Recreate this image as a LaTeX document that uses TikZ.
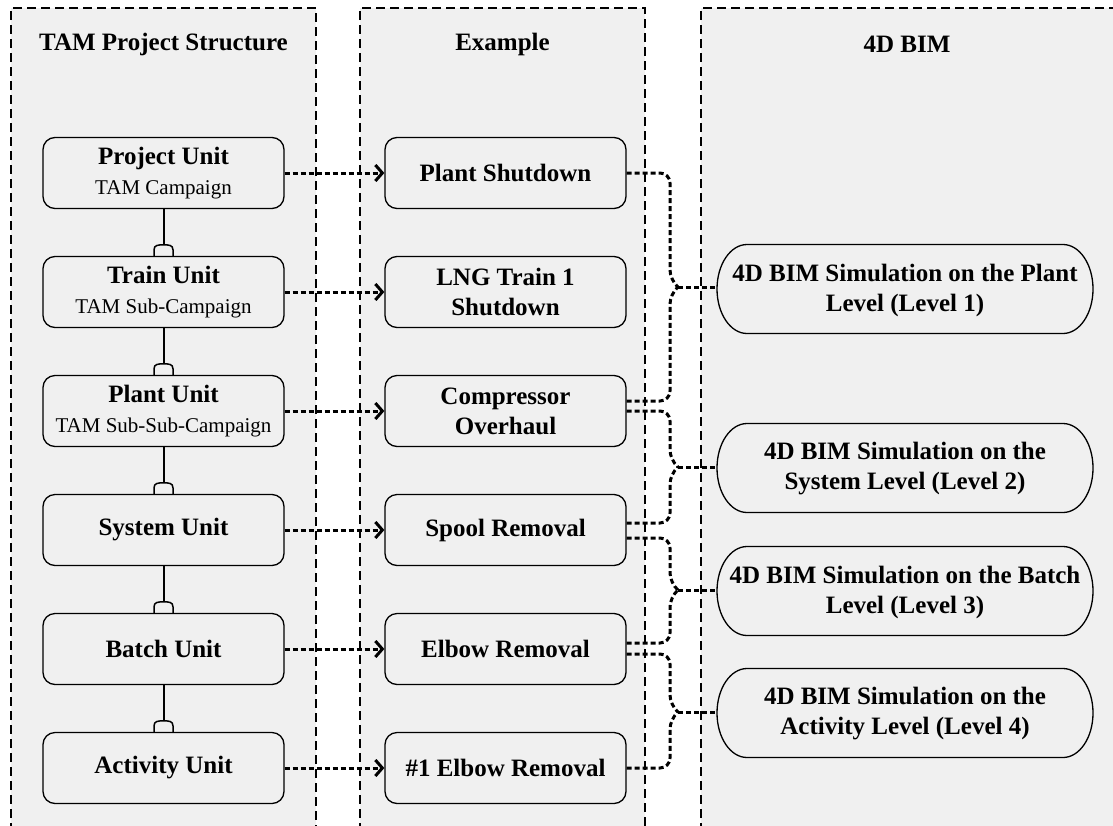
\documentclass[tikz,border=0pt]{standalone}
\usepackage{fontspec}
\setmainfont{Liberation Serif}
\usetikzlibrary{arrows.meta,calc}
\definecolor{lanegray}{RGB}{240,240,240}
% capsule outline with elliptic ends: centre x, centre y
\newcommand{\capshape}[2]{%
  \draw[capline] (#1-158,#2-44.5) -- (#1+158,#2-44.5)
    arc[start angle=90,end angle=-90,x radius=30pt,y radius=44.5pt]
    -- (#1-158,#2+44.5)
    arc[start angle=270,end angle=90,x radius=30pt,y radius=44.5pt] -- cycle;}
\newcommand{\subline}[1]{{\fontsize{21}{31}\selectfont\mdseries #1}}
\begin{document}
\begin{tikzpicture}[x=1pt,y=-1pt,
  lanefill/.style={fill=lanegray},
  laneedge/.style={draw=black, line width=1.1pt, dash pattern=on 9pt off 5pt},
  unitbox/.style={draw=black, fill=lanegray, line width=1.3pt, rounded corners=12pt,
    minimum width=241pt, minimum height=71pt, align=center, inner sep=0pt,
    font=\fontsize{25}{30}\selectfont\bfseries},
  lanetitle/.style={font=\fontsize{25}{30}\selectfont\bfseries},
  capsule/.style={minimum width=376pt, minimum height=89pt, align=center, inner sep=0pt,
    font=\fontsize{25}{30}\selectfont\bfseries},
  capline/.style={draw=black, fill=lanegray, line width=1.3pt},
  link/.style={line width=2pt},
  conn/.style={line width=3pt, dash pattern=on 5pt off 3pt, rounded corners=10pt},
  arr/.style={line width=3pt, dash pattern=on 5pt off 3pt,
    -{Straight Barb[length=7pt,width=16pt]}},
]
\useasboundingbox (0,0) rectangle (1113,825);
\fill[white] (0,0) rectangle (1113,825);

% swim lanes
\fill[lanefill] (11,8) rectangle (316,832);
\fill[lanefill] (360,8) rectangle (645,832);
\fill[lanefill] (701,8) rectangle (1125,832);
\draw[laneedge] (11,832) -- (11,8) -- (316,8) -- (316,832);
\draw[laneedge] (360,832) -- (360,8) -- (645,8) -- (645,832);
\draw[laneedge] (701,832) -- (701,8) -- (1125,8);

% lane titles
\node[lanetitle] (T1) at (163.5,44) {TAM Project Structure};
\node[lanetitle] (T2) at (502.5,44) {Example};
\node[lanetitle] (T3) at (907,44) {4D BIM};

% project structure units
\node[unitbox] (L1) at (163.5,173) {Project Unit\\\subline{TAM Campaign}};
\node[unitbox] (L2) at (163.5,292) {Train Unit\\\subline{TAM Sub-Campaign}};
\node[unitbox] (L3) at (163.5,411) {Plant Unit\\\subline{TAM Sub-Sub-Campaign}};
\node[unitbox] (L4) at (163.5,530) {System Unit};
\node[unitbox] (L5) at (163.5,649) {Batch Unit};
\node[unitbox] (L6) at (163.5,768) {Activity Unit};

% examples
\node[unitbox] (M1) at (505.5,173) {Plant Shutdown};
\node[unitbox] (M2) at (505.5,292) {LNG Train 1\\Shutdown};
\node[unitbox] (M3) at (505.5,411) {Compressor\\Overhaul};
\node[unitbox] (M4) at (505.5,530) {Spool Removal};
\node[unitbox] (M5) at (505.5,649) {Elbow Removal};
\node[unitbox] (M6) at (505.5,768) {\#1 Elbow Removal};

% 4D BIM levels
\foreach \cy in {289,468,591,713} {\capshape{905}{\cy}}
\node[capsule] (E1) at (905,290) {4D BIM Simulation on the Plant\\Level (Level 1)};
\node[capsule] (E2) at (905,469) {4D BIM Simulation on the\\System Level (Level 2)};
\node[capsule] (E3) at (905,592) {4D BIM Simulation on the Batch\\Level (Level 3)};
\node[capsule] (E4) at (905,714) {4D BIM Simulation on the\\Activity Level (Level 4)};

% hierarchy links with caps
\foreach \a/\b in {L1/L2,L2/L3,L3/L4,L4/L5,L5/L6} {
  \draw[link] (\a.south) -- ([yshift=11pt]\b.north);
  \draw[link, line width=1.5pt] ([xshift=-9.5pt]\b.north) -- ([xshift=-9.5pt,yshift=6pt]\b.north)
    .. controls ([xshift=-9.5pt,yshift=11pt]\b.north) and ([xshift=-5pt,yshift=11pt]\b.north) .. ([yshift=11pt]\b.north)
    .. controls ([xshift=5pt,yshift=11pt]\b.north) and ([xshift=9.5pt,yshift=11pt]\b.north) .. ([xshift=9.5pt,yshift=6pt]\b.north)
    -- ([xshift=9.5pt]\b.north);
}

% unit to example arrows
\foreach \i in {1,...,6} \draw[arr] (L\i.east) -- (M\i.west);

% brace tips
\coordinate (t1) at (678,287);
\coordinate (t2) at (678,467);
\coordinate (t3) at (678,590);
\coordinate (t4) at (678,712);

% braces joining examples to levels
\draw[conn] (M1.east) -| ([xshift=-8pt,yshift=7pt]t1) [rounded corners=2pt] -- (t1);
\draw[conn] ([yshift=10pt]M3.east) -| ([xshift=-8pt,yshift=-7pt]t1) [rounded corners=2pt] -- (t1);
\draw[conn] (M3.east) -| ([xshift=-8pt,yshift=7pt]t2) [rounded corners=2pt] -- (t2);
\draw[conn] ([yshift=7pt]M4.east) -| ([xshift=-8pt,yshift=-7pt]t2) [rounded corners=2pt] -- (t2);
\draw[conn] ([yshift=-8pt]M4.east) -| ([xshift=-8pt,yshift=7pt]t3) [rounded corners=2pt] -- (t3);
\draw[conn] ([yshift=6pt]M5.east) -| ([xshift=-8pt,yshift=-7pt]t3) [rounded corners=2pt] -- (t3);
\draw[conn] ([yshift=-5pt]M5.east) -| ([xshift=-8pt,yshift=7pt]t4) [rounded corners=2pt] -- (t4);
\draw[conn] (M6.east) -| ([xshift=-8pt,yshift=-7pt]t4) [rounded corners=2pt] -- (t4);
\foreach \i in {1,...,4} \draw[conn] (t\i) -- (t\i -| E\i.west);
\end{tikzpicture}
\end{document}
